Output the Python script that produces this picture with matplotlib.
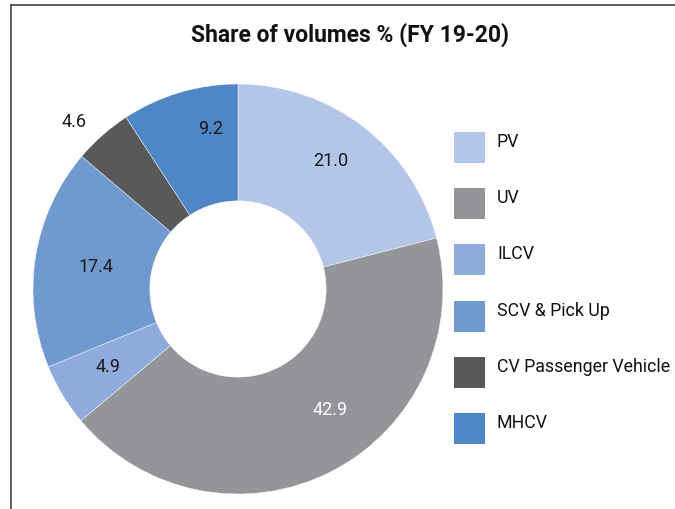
import numpy as np
import matplotlib.pyplot as plt
from matplotlib.patches import Rectangle
from matplotlib.lines import Line2D

plt.rcParams['font.family'] = ['Roboto', 'DejaVu Sans']

categories = ['PV', 'UV', 'ILCV', 'SCV & Pick Up', 'CV Passenger Vehicle', 'MHCV']
shares = [21.0, 42.9, 4.9, 17.4, 4.6, 9.2]
colors = ['#b4c6e7', '#949598', '#8faadc', '#7099d0', '#58595b', '#4f86c6']
label_colors = ['#1a1a1a', 'white', '#1a1a1a', '#1a1a1a', '#1a1a1a', '#1a1a1a']
label_radius = [0.77, 0.74, 0.74, 0.70, 1.14, 0.79]
label_shift = [2, 10, 0, 0, 3, -7]  # degrees, nudges to match the source layout

W, H = 675, 509
fig = plt.figure(figsize=(W / 100, H / 100), dpi=100)

# donut: centre (238, 289) px, radius 205 px
cx, cy, r = 238, 289, 205
ax = fig.add_axes([(cx - r) / W, (H - cy - r) / H, 2 * r / W, 2 * r / H])
wedges, _ = ax.pie(shares, colors=colors, startangle=90, counterclock=False,
                   radius=1, wedgeprops=dict(width=0.57, edgecolor='white', linewidth=0.3))
ax.set_xlim(-1, 1)
ax.set_ylim(-1, 1)
ax.set_aspect('equal')
ax.axis('off')

for w, val, c, rr, sh in zip(wedges, shares, label_colors, label_radius, label_shift):
    ang = np.deg2rad((w.theta1 + w.theta2) / 2 + sh)
    ax.text(rr * np.cos(ang), rr * np.sin(ang), f'{val:.1f}', color=c,
            fontsize=13, ha='center', va='center', clip_on=False)

fig.text(350 / W, 1 - 35 / H, 'Share of volumes % (FY 19-20)', ha='center', va='center',
         fontsize=16.5, fontweight='semibold', color='#111111')

# legend
for i, (name, col) in enumerate(zip(categories, colors)):
    top = 132 + i * 56.2
    fig.add_artist(Rectangle((454 / W, 1 - (top + 31) / H), 31 / W, 31 / H,
                             transform=fig.transFigure, facecolor=col, edgecolor='none'))
    fig.text(497 / W, 1 - (top + 10) / H, name, ha='left', va='center',
             fontsize=12.8, color='#111111')

# frame lines (top and left)
fig.add_artist(Line2D([11 / W, 11 / W], [0, 1 - 5 / H], transform=fig.transFigure,
                      color='#444444', linewidth=1.2))
fig.add_artist(Line2D([11 / W, 1], [1 - 5 / H, 1 - 5 / H], transform=fig.transFigure,
                      color='#444444', linewidth=1.2))

fig.savefig('out.png', dpi=100)
